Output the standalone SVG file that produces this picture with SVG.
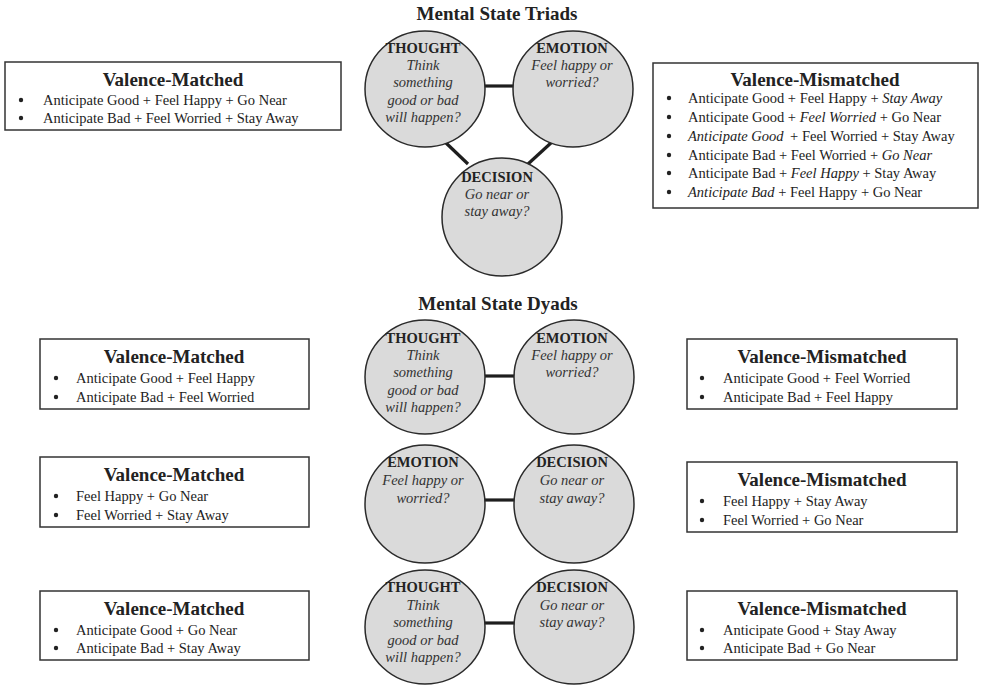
<svg xmlns="http://www.w3.org/2000/svg" width="986" height="685" viewBox="0 0 986 685">
<style>
text{font-family:"Liberation Serif","Times New Roman",serif;fill:#222}
.title{font-size:19px;font-weight:bold;text-anchor:middle}
.bt{font-size:19px;font-weight:bold;text-anchor:middle}
.li{font-size:14.5px}
.nh{font-size:14.5px;font-weight:bold;text-anchor:middle}
.ni{font-size:14.5px;font-style:italic;text-anchor:middle;fill:#333}
.it{font-style:italic}
.box{fill:#fff;stroke:#333;stroke-width:1.5}
.node{fill:#dadada;stroke:#2a2a2a;stroke-width:1.5}
.conn{stroke:#1e1e1e;stroke-width:3.2;fill:none}
.dot{fill:#222}
</style>
<text class="title" x="497" y="20">Mental State Triads</text>
<text class="title" x="498" y="310">Mental State Dyads</text>

<g id="connectors">
<line class="conn" x1="484" y1="86" x2="514" y2="86"/>
<line class="conn" x1="445" y1="142" x2="468" y2="164"/>
<line class="conn" x1="552" y1="142" x2="528" y2="164"/>
<line class="conn" x1="484" y1="376" x2="515" y2="376"/>
<line class="conn" x1="484" y1="500" x2="515" y2="500"/>
<line class="conn" x1="484" y1="623" x2="515" y2="623"/>
</g>

<g id="triad-thought">
<ellipse class="node" cx="425" cy="89" rx="60" ry="58"/>
<text class="nh" x="423" y="53">THOUGHT</text>
<text class="ni" x="423" y="70">Think</text>
<text class="ni" x="423" y="87">something</text>
<text class="ni" x="423" y="105">good or bad</text>
<text class="ni" x="423" y="122">will happen?</text>
</g>
<g id="triad-emotion">
<ellipse class="node" cx="573" cy="89" rx="60" ry="58"/>
<text class="nh" x="572" y="53">EMOTION</text>
<text class="ni" x="572" y="70">Feel happy or</text>
<text class="ni" x="572" y="87">worried?</text>
</g>
<g id="triad-decision">
<ellipse class="node" cx="502" cy="217" rx="60" ry="59"/>
<text class="nh" x="497" y="182">DECISION</text>
<text class="ni" x="497" y="199">Go near or</text>
<text class="ni" x="497" y="216">stay away?</text>
</g>

<g id="triad-matched">
<rect class="box" x="5" y="62" width="336" height="68"/>
<text class="bt" x="173" y="86">Valence-Matched</text>
<circle class="dot" cx="21" cy="100" r="2.2"/>
<text class="li" x="43" y="105">Anticipate Good + Feel Happy + Go Near</text>
<circle class="dot" cx="21" cy="118" r="2.2"/>
<text class="li" x="43" y="123">Anticipate Bad + Feel Worried + Stay Away</text>
</g>

<g id="triad-mismatched">
<rect class="box" x="653" y="63" width="325" height="145"/>
<text class="bt" x="815" y="86">Valence-Mismatched</text>
<circle class="dot" cx="669" cy="98" r="2.2"/>
<text class="li" x="688" y="103">Anticipate Good + Feel Happy + <tspan class="it">Stay Away</tspan></text>
<circle class="dot" cx="669" cy="117" r="2.2"/>
<text class="li" x="688" y="122">Anticipate Good + <tspan class="it">Feel Worried</tspan> + Go Near</text>
<circle class="dot" cx="669" cy="136" r="2.2"/>
<text class="li" x="688" y="141"><tspan class="it">Anticipate Good</tspan><tspan dx="3"> + Feel Worried + Stay Away</tspan></text>
<circle class="dot" cx="669" cy="155" r="2.2"/>
<text class="li" x="688" y="160">Anticipate Bad + Feel Worried + <tspan class="it">Go Near</tspan></text>
<circle class="dot" cx="669" cy="173" r="2.2"/>
<text class="li" x="688" y="178">Anticipate Bad + <tspan class="it">Feel Happy</tspan> + Stay Away</text>
<circle class="dot" cx="669" cy="192" r="2.2"/>
<text class="li" x="688" y="197"><tspan class="it">Anticipate Bad</tspan> + Feel Happy + Go Near</text>
</g>

<g id="dyad1-thought">
<ellipse class="node" cx="425" cy="377" rx="60" ry="57"/>
<text class="nh" x="423" y="343">THOUGHT</text>
<text class="ni" x="423" y="360">Think</text>
<text class="ni" x="423" y="377">something</text>
<text class="ni" x="423" y="395">good or bad</text>
<text class="ni" x="423" y="412">will happen?</text>
</g>
<g id="dyad1-emotion">
<ellipse class="node" cx="574" cy="377" rx="60" ry="57"/>
<text class="nh" x="572" y="343">EMOTION</text>
<text class="ni" x="572" y="360">Feel happy or</text>
<text class="ni" x="572" y="377">worried?</text>
</g>
<g id="dyad2-emotion">
<ellipse class="node" cx="425" cy="504" rx="60" ry="59"/>
<text class="nh" x="423" y="467">EMOTION</text>
<text class="ni" x="423" y="485">Feel happy or</text>
<text class="ni" x="423" y="503">worried?</text>
</g>
<g id="dyad2-decision">
<ellipse class="node" cx="574" cy="504" rx="60" ry="59"/>
<text class="nh" x="572" y="467">DECISION</text>
<text class="ni" x="572" y="485">Go near or</text>
<text class="ni" x="572" y="503">stay away?</text>
</g>
<g id="dyad3-thought">
<ellipse class="node" cx="425" cy="627" rx="60" ry="57"/>
<text class="nh" x="423" y="592">THOUGHT</text>
<text class="ni" x="423" y="610">Think</text>
<text class="ni" x="423" y="627">something</text>
<text class="ni" x="423" y="645">good or bad</text>
<text class="ni" x="423" y="662">will happen?</text>
</g>
<g id="dyad3-decision">
<ellipse class="node" cx="574" cy="627" rx="60" ry="57"/>
<text class="nh" x="572" y="592">DECISION</text>
<text class="ni" x="572" y="610">Go near or</text>
<text class="ni" x="572" y="627">stay away?</text>
</g>

<g id="dyad1-matched">
<rect class="box" x="40" y="339" width="269" height="70"/>
<text class="bt" x="174" y="363">Valence-Matched</text>
<circle class="dot" cx="56" cy="378" r="2.2"/>
<text class="li" x="76" y="383">Anticipate Good + Feel Happy</text>
<circle class="dot" cx="56" cy="397" r="2.2"/>
<text class="li" x="76" y="402">Anticipate Bad + Feel Worried</text>
</g>
<g id="dyad2-matched">
<rect class="box" x="40" y="457" width="269" height="70"/>
<text class="bt" x="174" y="481">Valence-Matched</text>
<circle class="dot" cx="56" cy="496" r="2.2"/>
<text class="li" x="76" y="501">Feel Happy + Go Near</text>
<circle class="dot" cx="56" cy="515" r="2.2"/>
<text class="li" x="76" y="520">Feel Worried + Stay Away</text>
</g>
<g id="dyad3-matched">
<rect class="box" x="40" y="591" width="269" height="69"/>
<text class="bt" x="174" y="615">Valence-Matched</text>
<circle class="dot" cx="56" cy="630" r="2.2"/>
<text class="li" x="76" y="635">Anticipate Good + Go Near</text>
<circle class="dot" cx="56" cy="648" r="2.2"/>
<text class="li" x="76" y="653">Anticipate Bad + Stay Away</text>
</g>

<g id="dyad1-mismatched">
<rect class="box" x="687" y="339" width="270" height="70"/>
<text class="bt" x="822" y="363">Valence-Mismatched</text>
<circle class="dot" cx="702" cy="378" r="2.2"/>
<text class="li" x="723" y="383">Anticipate Good + Feel Worried</text>
<circle class="dot" cx="702" cy="397" r="2.2"/>
<text class="li" x="723" y="402">Anticipate Bad + Feel Happy</text>
</g>
<g id="dyad2-mismatched">
<rect class="box" x="687" y="462" width="270" height="70"/>
<text class="bt" x="822" y="486">Valence-Mismatched</text>
<circle class="dot" cx="702" cy="501" r="2.2"/>
<text class="li" x="723" y="506">Feel Happy + Stay Away</text>
<circle class="dot" cx="702" cy="520" r="2.2"/>
<text class="li" x="723" y="525">Feel Worried + Go Near</text>
</g>
<g id="dyad3-mismatched">
<rect class="box" x="687" y="591" width="270" height="69"/>
<text class="bt" x="822" y="615">Valence-Mismatched</text>
<circle class="dot" cx="702" cy="630" r="2.2"/>
<text class="li" x="723" y="635">Anticipate Good + Stay Away</text>
<circle class="dot" cx="702" cy="648" r="2.2"/>
<text class="li" x="723" y="653">Anticipate Bad + Go Near</text>
</g>
</svg>
